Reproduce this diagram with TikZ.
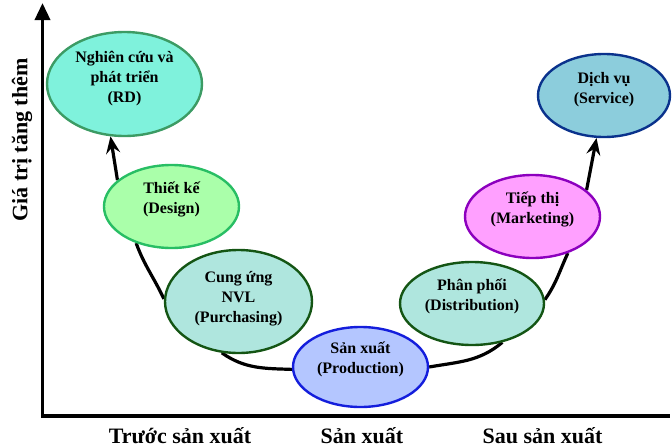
\documentclass[tikz,border=0pt]{standalone}
\usepackage{fontspec}
\setmainfont{Liberation Serif}
\usetikzlibrary{shapes.geometric,arrows.meta,backgrounds}
\definecolor{rdfill}{RGB}{127,242,220}
\definecolor{rdline}{RGB}{60,155,100}
\definecolor{tkfill}{RGB}{170,255,170}
\definecolor{tkline}{RGB}{40,190,100}
\definecolor{cufill}{RGB}{175,230,222}
\definecolor{culine}{RGB}{20,85,20}
\definecolor{sxfill}{RGB}{180,198,255}
\definecolor{sxline}{RGB}{20,30,220}
\definecolor{ttfill}{RGB}{255,160,255}
\definecolor{ttline}{RGB}{140,0,190}
\definecolor{dvfill}{RGB}{140,205,220}
\definecolor{dvline}{RGB}{10,50,140}
\tikzset{
  stage/.style={ellipse, line width=2.4pt, inner sep=0pt},
  stagelabel/.style={font=\bfseries\fontsize{16}{20}\selectfont, align=center},
  axislabel/.style={font=\bfseries\fontsize{22}{26}\selectfont},
  axisline/.style={line width=3.5pt, draw=black, line join=miter},
  chain/.style={line width=3.2pt, draw=black},
  chainhead/.style={-{Stealth[length=17pt,width=14pt,inset=6pt]}},
}

\begin{document}
\begin{tikzpicture}[x=1pt,y=-1pt]
\useasboundingbox (0,0) rectangle (672,447);
% axes
\coordinate (ytop) at (42.5,3);
\coordinate (orig) at (42.5,416);
\coordinate (xend) at (670,416);
\draw[axisline, {Triangle[length=17pt,width=15pt]}-] (ytop) -- (orig) -- (xend);
\node[axislabel, rotate=90] (ylab) at (22,140) {Giá trị tăng thêm};
\node[axislabel, anchor=base] (pre) at (180,443) {Trước sản xuất};
\node[axislabel, anchor=base] (mid) at (362,443) {Sản xuất};
\node[axislabel, anchor=base] (post) at (542.5,443) {Sau sản xuất};
% stages
\node[stage, fill=rdfill, draw=rdline, minimum width=155, minimum height=104] (rd) at (124.5,84) {};
\node[stage, fill=tkfill, draw=tkline, minimum width=135, minimum height=83] (tk) at (171.5,206.5) {};
\node[stage, fill=cufill, draw=culine, minimum width=147, minimum height=103] (cu) at (238.5,301.5) {};
\node[stage, fill=sxfill, draw=sxline, minimum width=135, minimum height=80] (sx) at (360.5,367) {};
\node[stage, fill=cufill, draw=culine, minimum width=144, minimum height=83] (pp) at (472,303.5) {};
\node[stage, fill=ttfill, draw=ttline, minimum width=135, minimum height=83] (tt) at (532.5,216.5) {};
\node[stage, fill=dvfill, draw=dvline, minimum width=132, minimum height=83] (dv) at (604,95.5) {};
\node[stagelabel] (rdtext) at (124.5,79) {Nghiên cứu và\\phát triển\\(RD)};
\node[stagelabel] (tktext) at (171.5,199) {Thiết kế\\(Design)};
\node[stagelabel] (cutext) at (238.5,298.5) {Cung ứng\\NVL\\(Purchasing)};
\node[stagelabel] (sxtext) at (360.5,359.5) {Sản xuất\\(Production)};
\node[stagelabel] (pptext) at (472,296) {Phân phối\\(Distribution)};
\node[stagelabel] (tttext) at (532.5,209) {Tiếp thị\\(Marketing)};
\node[stagelabel] (dvtext) at (604,90) {Dịch vụ\\(Service)};
% value chain curve
\begin{scope}[on background layer]
\draw[chain, chainhead] (tk.154) -- (rd.255);
\draw[chain] (tk.226) to[out=-70, in=115] (cu.178);
\draw[chain] (cu.252) to[out=-35, in=178] (sx.182);
\draw[chain] (sx.0) to[out=10, in=220] (pp.308);
\draw[chain] (pp.3) to[out=55, in=245] (tt.314);
\draw[chain, chainhead] (tt.26) -- (dv.260);
\end{scope}
\end{tikzpicture}
\end{document}
